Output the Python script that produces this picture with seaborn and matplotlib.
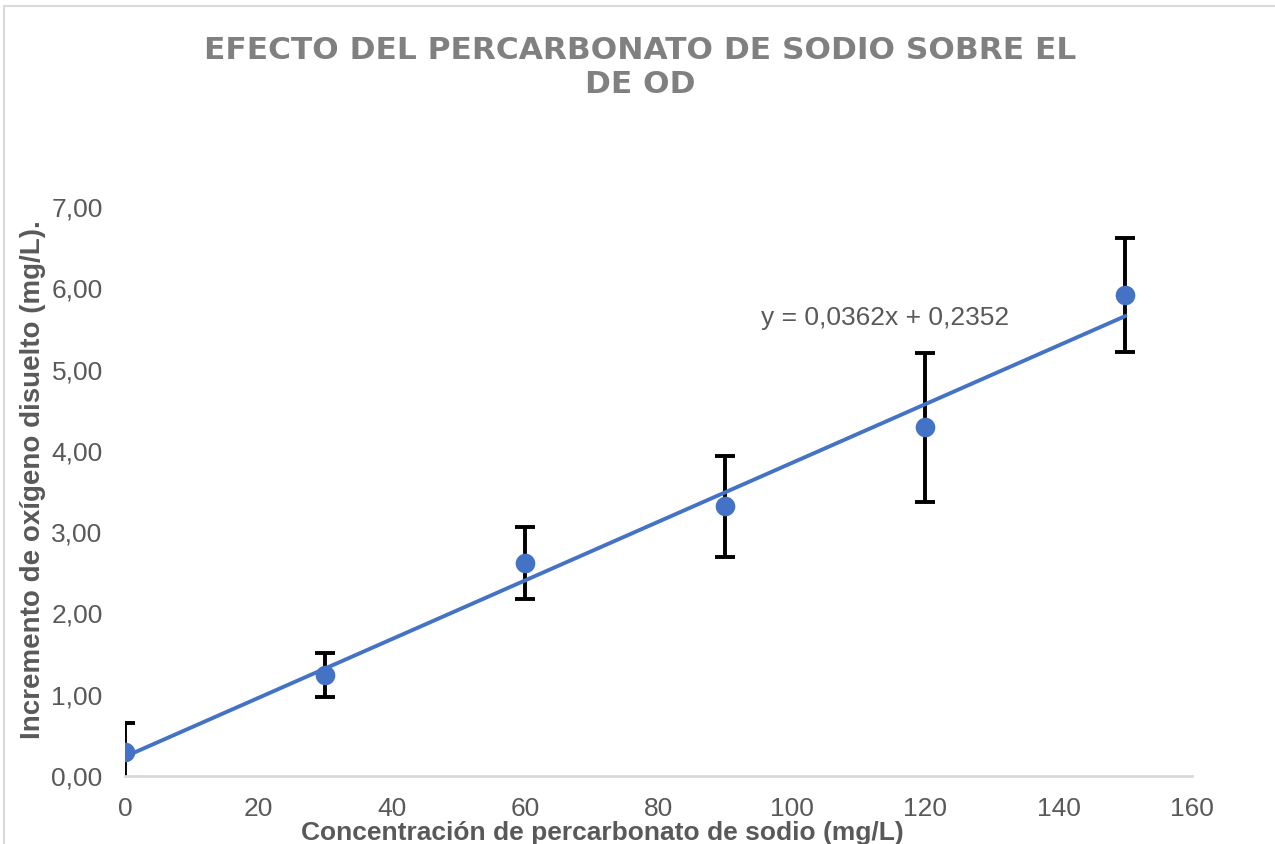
import matplotlib
matplotlib.use("Agg")
import matplotlib.pyplot as plt
from matplotlib.patches import Rectangle
import seaborn as sns
import pandas as pd

# data
conc = [0, 30, 60, 90, 120, 150]
incremento = [0.30, 1.24, 2.62, 3.32, 4.29, 5.92]
desv = [0.35, 0.27, 0.44, 0.62, 0.92, 0.70]
x_ticks = [0, 20, 40, 60, 80, 100, 120, 140, 160]
y_ticks = [0, 1, 2, 3, 4, 5, 6, 7]

title = "EFECTO DEL PERCARBONATO DE SODIO SOBRE EL\nDE OD"
ecuacion = "y = 0,0362x + 0,2352"
xlabel = "Concentración de percarbonato de sodio (mg/L)"
ylabel = "Incremento de oxígeno disuelto (mg/L)."

BLUE = "#4472C4"
GRAY = "#595959"

sns.set_style("white")
plt.rcParams['font.family'] = ['Liberation Sans', 'DejaVu Sans']

df = pd.DataFrame({"conc": conc, "inc": incremento, "sd": desv})

fig = plt.figure(figsize=(12.75, 8.44), dpi=100)
ax = fig.add_axes([0.098, 0.0806, 0.837, 0.6741])

ax.errorbar(df["conc"], df["inc"], yerr=df["sd"], fmt="none", ecolor="black",
            elinewidth=2.8, capsize=7, capthick=2.8, zorder=1.5)
sns.regplot(data=df, x="conc", y="inc", ci=None, ax=ax,
            scatter_kws={"s": 200, "color": BLUE, "alpha": 1, "zorder": 3, "linewidths": 0},
            line_kws={"color": BLUE, "lw": 2.8, "zorder": 2})

ax.set_xlim(0, 160)
ax.set_ylim(0, 7)
ax.set_xticks(x_ticks)
ax.set_yticks(y_ticks)
ax.set_xticklabels([str(t) for t in x_ticks])
ax.set_yticklabels([f"{t:.2f}".replace(".", ",") for t in y_ticks])
ax.tick_params(axis="both", length=0, labelsize=19, labelcolor=GRAY)
ax.tick_params(axis="x", pad=15)
ax.tick_params(axis="y", pad=16)

for s in ["left", "right", "top"]:
    ax.spines[s].set_visible(False)
ax.spines["bottom"].set_color("#d9d9d9")
ax.spines["bottom"].set_linewidth(2)

ax.set_xlabel(xlabel, fontsize=19, fontweight="bold", color=GRAY)
ax.set_ylabel(ylabel, fontsize=20, fontweight="bold", color=GRAY)
ax.xaxis.set_label_coords(0.447, -0.079)
ax.yaxis.set_label_coords(-0.074, 0.52)

ax.text(95.4, 5.63, ecuacion, fontsize=19, color=GRAY, va="center", ha="left")

fig.text(0.502, 0.920, title, ha="center", va="center", fontsize=22.5,
         fontweight="bold", color="#808080", linespacing=1.2,
         family=["DejaVu Sans"])

fig.patches.append(Rectangle((4 / 1275, -0.05), 1.2, 1 - 6 / 844 + 0.05,
                             transform=fig.transFigure, fill=False,
                             edgecolor="#d9d9d9", lw=1.5))

fig.savefig("out.png", dpi=100)
